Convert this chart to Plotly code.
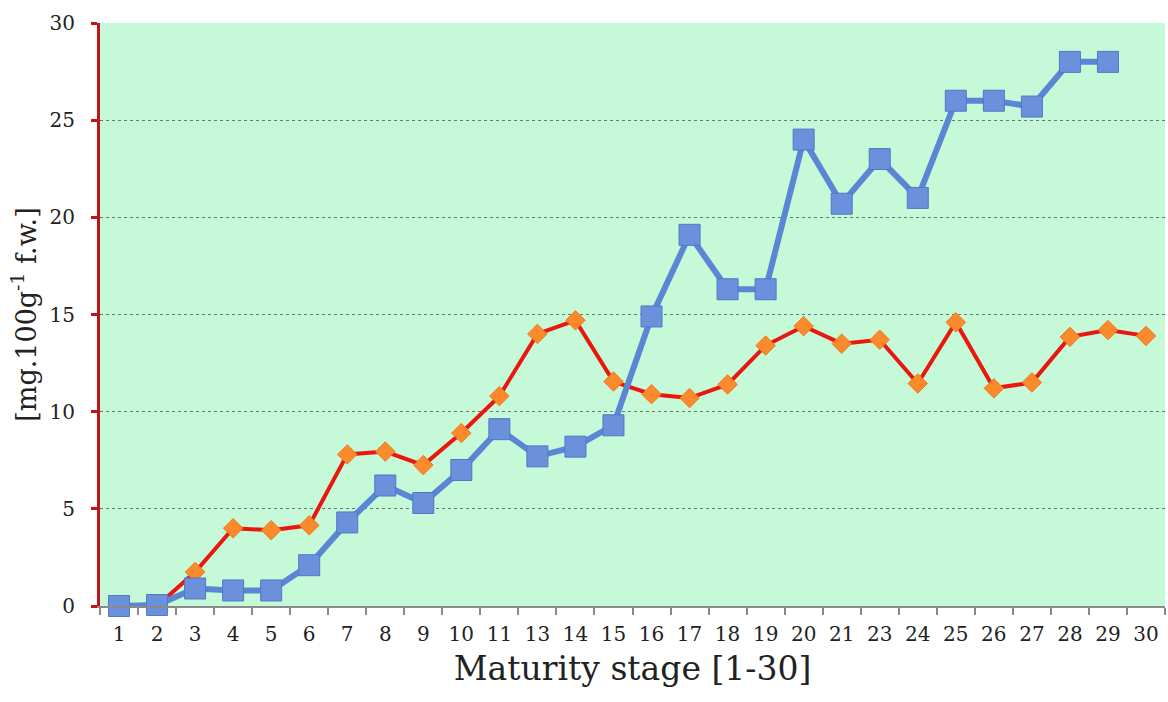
import plotly.graph_objects as go

stages = ["1", "2", "3", "4", "5", "6", "7", "8", "9", "10", "11", "13", "14", "15",
          "16", "17", "18", "19", "20", "21", "23", "24", "25", "26", "27", "28", "29", "30"]
blue_values = [0, 0.05, 0.9, 0.8, 0.8, 2.1, 4.3, 6.2, 5.3, 7.0, 9.1, 7.7, 8.2, 9.3,
               14.9, 19.1, 16.3, 16.3, 24.0, 20.7, 23.0, 21.0, 26.0, 26.0, 25.7, 28.0, 28.0, None]
red_values = [0, 0, 1.75, 4.0, 3.9, 4.15, 7.8, 7.95, 7.25, 8.9, 10.8, 14.0, 14.7, 11.55,
              10.9, 10.7, 11.4, 13.4, 14.4, 13.5, 13.7, 11.45, 14.6, 11.2, 11.5, 13.85, 14.2, 13.9]
y_ticks = [0, 5, 10, 15, 20, 25, 30]

FONT = "DejaVu Serif"

fig = go.Figure()
fig.add_trace(go.Scatter(
    x=stages, y=red_values, mode="lines+markers",
    line=dict(color="#e8170f", width=4),
    marker=dict(symbol="diamond", size=15, color="#fb8a2c", line=dict(color="#f07a20", width=1)),
    showlegend=False, cliponaxis=False,
))
fig.add_trace(go.Scatter(
    x=stages, y=blue_values, mode="lines+markers",
    line=dict(color="#5a86d5", width=6),
    marker=dict(symbol="square", size=21, color="#6b90dc", line=dict(color="#4f79c4", width=1)),
    showlegend=False, cliponaxis=False,
))

fig.update_layout(
    width=1168, height=702,
    margin=dict(l=100, r=3, t=23, b=96),
    paper_bgcolor="white", plot_bgcolor="#c6f9d7",
    font=dict(family=FONT, color="#222222"),
)
fig.update_xaxes(
    type="category", categoryorder="array", categoryarray=stages,
    range=[-0.5, len(stages) - 0.5],
    tickson="boundaries", ticks="outside", ticklen=7, tickcolor="#888888", tickwidth=2,
    showline=True, linecolor="#8a8a8a", linewidth=2,
    showgrid=False, tickfont=dict(size=20, family=FONT, color="#222222"),
    ticklabelstandoff=9,
    title=dict(text="Maturity stage [1-30]", font=dict(size=33, family=FONT, color="#222222"), standoff=12),
)
fig.update_yaxes(
    range=[0, 30], tickvals=y_ticks,
    ticks="outside", ticklen=6, tickcolor="#c0141c", tickwidth=3,
    showline=True, linecolor="#c0141c", linewidth=3,
    showgrid=True, gridcolor="#6b7a6f", griddash="dot", gridwidth=1,
    zeroline=False, tickfont=dict(size=20, family=FONT, color="#222222"),
    ticklabelstandoff=12,
    title=dict(text="[mg.100g<sup>-1</sup> f.w.]", font=dict(size=27, family=FONT, color="#222222"), standoff=6),
)

fig.write_html("out.html", config={"displayModeBar": False},
               post_script="document.body.style.margin='0';document.body.style.overflow='hidden';")
